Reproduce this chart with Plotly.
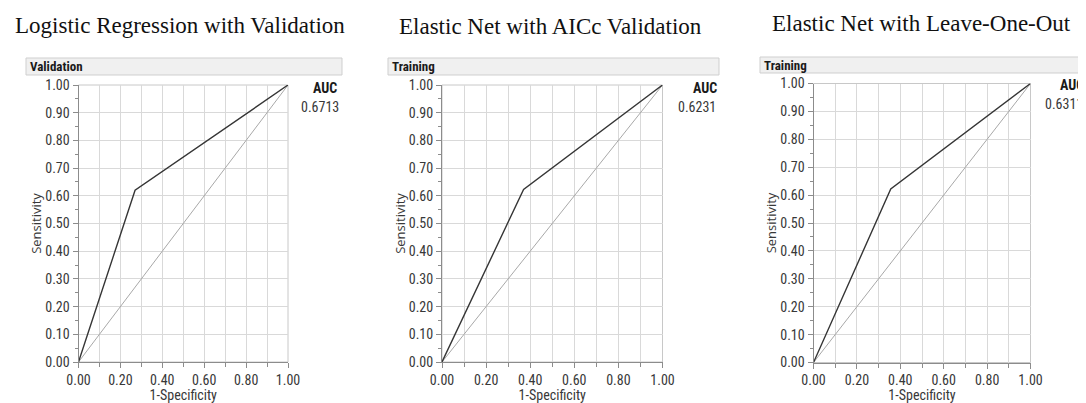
import plotly.graph_objects as go

# ---- data ----
titles = ["Logistic Regression with Validation", "Elastic Net with AICc Validation", "Elastic Net with Leave-One-Out"]
headers = ["Validation", "Training", "Training"]
auc_values = ["0.6713", "0.6231", "0.6311"]
roc_x = [[0.0, 0.27, 1.0], [0.0, 0.37, 1.0], [0.0, 0.356, 1.0]]
roc_y = [[0.0, 0.62, 1.0], [0.0, 0.623, 1.0], [0.0, 0.622, 1.0]]
diag_x = [0.0, 1.0]
diag_y = [0.0, 1.0]
x_tickvals = [0.0, 0.2, 0.4, 0.6, 0.8, 1.0]
x_ticktext = ["0.00", "0.20", "0.40", "0.60", "0.80", "1.00"]
y_tickvals = [round(i * 0.1, 1) for i in range(11)]
y_ticktext = ["%.2f" % v for v in y_tickvals]

# page has an 8px body margin: figure drawn from (8, 8)
OFF = 8
W, H = 1086 - OFF, 403 - OFF


def px(x):
    return (x - OFF) / W


def py(y):
    return 1 - (y - OFF) / H


# plot area pixel boxes in page coords (left, right, top, bottom)
boxes = [(78.5, 288, 85, 362), (442, 662.5, 85, 362), (813.5, 1030.5, 83.5, 362.5)]
header_boxes = [(26, 342, 58, 75), (388, 719, 58, 75), (760, 1095, 57, 73)]
title_pos = [(180, 25), (550, 26), (921, 24)]
auc_pos = [(325, 88, 320, 107), (705, 88, 697, 107), (1072, 85, 1064, 104)]

narrow = "Liberation Sans Narrow, Arial Narrow, Roboto Condensed, sans-serif"
tickfont = dict(family=narrow, size=14, color="#383838")

fig = go.Figure()
shapes = []
annotations = []
for i in range(3):
    sfx = "" if i == 0 else str(i + 1)
    l, r, t, b = boxes[i]
    fig.add_trace(go.Scatter(x=diag_x, y=diag_y, mode="lines",
                             line=dict(color="#a8a8a8", width=1),
                             xaxis="x" + sfx, yaxis="y" + sfx, showlegend=False, hoverinfo="skip"))
    fig.add_trace(go.Scatter(x=roc_x[i], y=roc_y[i], mode="lines",
                             line=dict(color="#363636", width=1.4),
                             xaxis="x" + sfx, yaxis="y" + sfx, showlegend=False))
    xa = dict(domain=[px(l), px(r)], range=[0, 1], anchor="y" + sfx, automargin=False,
              tickvals=x_tickvals, ticktext=x_ticktext, tickfont=tickfont,
              showgrid=True, gridcolor="#d9d9d9", gridwidth=1,
              showline=True, linecolor="#8c8c8c", linewidth=1,
              ticks="outside", ticklen=5, tickcolor="#8c8c8c",
              minor=dict(dtick=0.1, tick0=0, showgrid=True, gridcolor="#d9d9d9",
                         ticks="outside", ticklen=4, tickcolor="#8c8c8c"),
              zeroline=False, fixedrange=True,
              title=dict(text="1-Specificity", font=dict(family=narrow, size=14, color="#383838"), standoff=1))
    ya = dict(domain=[py(b), py(t)], range=[0, 1], anchor="x" + sfx, automargin=False,
              tickvals=y_tickvals, ticktext=y_ticktext, tickfont=tickfont,
              showgrid=True, gridcolor="#d9d9d9", gridwidth=1,
              showline=True, linecolor="#8c8c8c", linewidth=1,
              ticks="outside", ticklen=5, tickcolor="#8c8c8c",
              minor=dict(dtick=0.05, tick0=0, showgrid=False,
                         ticks="outside", ticklen=3, tickcolor="#8c8c8c"),
              zeroline=False, fixedrange=True,
              title=dict(text="Sensitivity", font=dict(family="Open Sans, sans-serif", size=13, color="#383838"), standoff=0))
    fig.update_layout(**{"xaxis" + sfx: xa, "yaxis" + sfx: ya})
    # right/top frame
    shapes.append(dict(type="rect", xref="paper", yref="paper",
                       x0=px(l), x1=px(r), y0=py(b), y1=py(t),
                       line=dict(color="#c8c8c8", width=1), layer="below"))
    hl, hr, ht, hb = header_boxes[i]
    shapes.append(dict(type="rect", xref="paper", yref="paper",
                       x0=px(hl), x1=px(hr), y0=py(hb), y1=py(ht),
                       fillcolor="#f0f0f0", line=dict(color="#cfcfcf", width=1), layer="below"))
    annotations.append(dict(text="<b>" + headers[i] + "</b>", xref="paper", yref="paper",
                            x=px(hl + 2), y=py((ht + hb) / 2), xanchor="left", yanchor="middle",
                            showarrow=False, font=dict(family=narrow, size=13, color="#1a1a1a")))
    tx, ty = title_pos[i]
    annotations.append(dict(text=titles[i], xref="paper", yref="paper", x=px(tx), y=py(ty),
                            xanchor="center", yanchor="middle", showarrow=False,
                            font=dict(family="Liberation Serif, serif", size=23, color="#111111")))
    ax, ay, vx, vy = auc_pos[i]
    annotations.append(dict(text="<b>AUC</b>", xref="paper", yref="paper", x=px(ax), y=py(ay),
                            xanchor="center", yanchor="middle", showarrow=False,
                            font=dict(family=narrow, size=14, color="#1a1a1a")))
    annotations.append(dict(text=auc_values[i], xref="paper", yref="paper", x=px(vx), y=py(vy),
                            xanchor="center", yanchor="middle", showarrow=False,
                            font=dict(family=narrow, size=14, color="#383838")))

fig.update_layout(width=W, height=H, margin=dict(l=0, r=0, t=0, b=0, autoexpand=False),
                  paper_bgcolor="white", plot_bgcolor="white",
                  shapes=shapes, annotations=annotations, showlegend=False)
fig.write_html("out.html")
